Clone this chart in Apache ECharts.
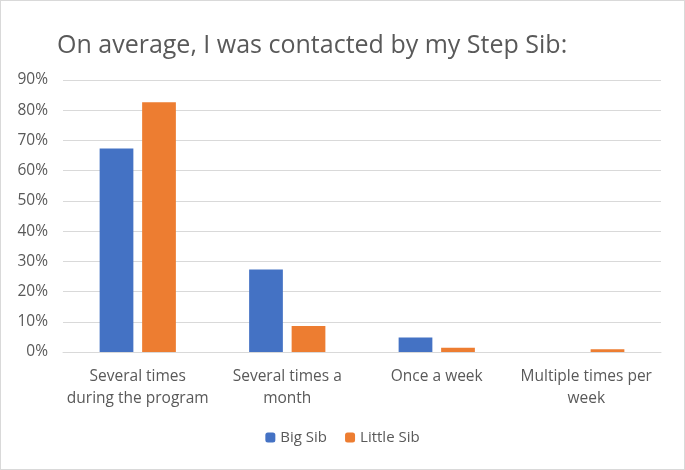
<!DOCTYPE html>
<html><head><meta charset="utf-8">
<script src="https://cdn.jsdelivr.net/npm/echarts@6/dist/echarts.min.js"></script>
<style>html,body{margin:0;padding:0;background:#fff}#c{width:685px;height:470px;box-sizing:border-box;border:1px solid #d9d9d9}</style>
</head><body><div id="c"></div>
<script>
const categories = ['Several times\nduring the program', 'Several times a\nmonth', 'Once a week', 'Multiple times per\nweek'];
const bigSib = [0.673, 0.273, 0.048, 0];
const littleSib = [0.826, 0.086, 0.014, 0.009];
const yTicks = [0, 0.1, 0.2, 0.3, 0.4, 0.5, 0.6, 0.7, 0.8, 0.9];
const font = 'Open Sans';
const chart = echarts.init(document.getElementById('c'));
chart.setOption({
  animation: false,
  title: { text: 'On average, I was contacted by my Step Sib:', left: 51, top: 27,
    textStyle: { fontFamily: font, fontSize: 25, fontWeight: 'normal', color: '#595959' } },
  legend: { bottom: 19, left: 'center', itemWidth: 10, itemHeight: 10, itemGap: 18,
    textStyle: { fontFamily: font, fontSize: 15, color: '#595959' },
    data: ['Big Sib', 'Little Sib'] },
  grid: { left: 62, right: 23, top: 79, bottom: 117 },
  xAxis: { type: 'category', data: categories,
    axisLine: { lineStyle: { color: '#d9d9d9' } }, axisTick: { show: false },
    axisLabel: { interval: 0, fontFamily: font, fontSize: 15.5, color: '#595959', margin: 14, lineHeight: 22 } },
  yAxis: { type: 'value', min: 0, max: 0.9, interval: 0.1,
    axisLine: { show: false }, axisTick: { show: false },
    splitLine: { lineStyle: { color: '#d9d9d9' } },
    axisLabel: { fontFamily: font, fontSize: 15.5, color: '#595959', margin: 15,
      formatter: v => Math.round(v * 100) + '%' } },
  series: [
    { name: 'Big Sib', type: 'bar', data: bigSib, barGap: '26%', barCategoryGap: '49%',
      itemStyle: { color: '#4472c4' } },
    { name: 'Little Sib', type: 'bar', data: littleSib,
      itemStyle: { color: '#ed7d31' } }
  ]
});
</script></body></html>
